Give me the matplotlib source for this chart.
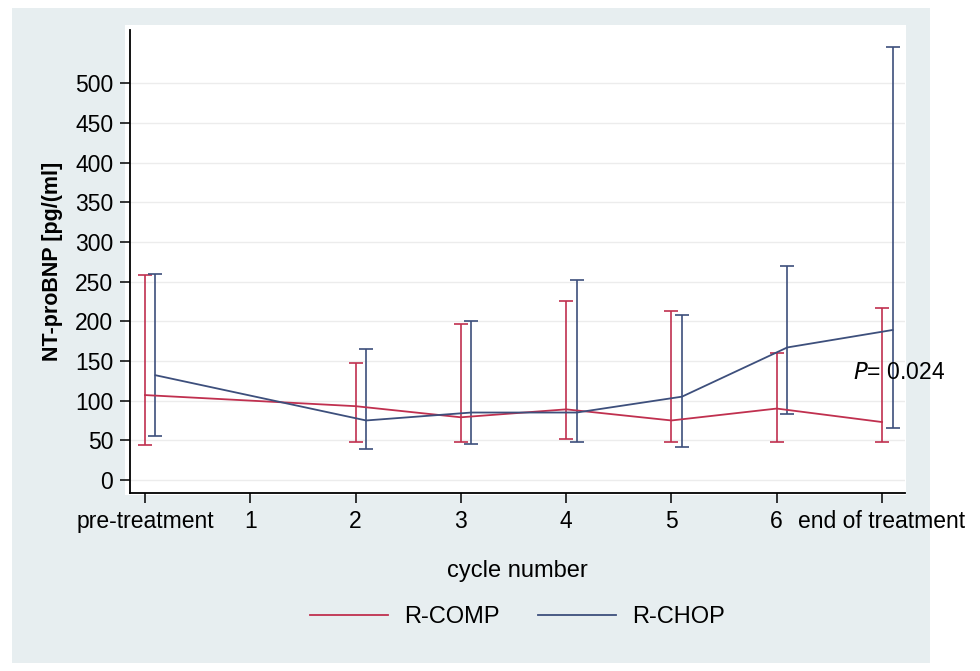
import matplotlib
matplotlib.use("Agg")
import matplotlib.pyplot as plt
from matplotlib.patches import Rectangle

plt.rcParams['font.family'] = ['Liberation Sans', 'DejaVu Sans']

categories = ["pre-treatment", "1", "2", "3", "4", "5", "6", "end of treatment"]

# R-COMP (positions = cycle index)
comp_x = [0, 2, 3, 4, 5, 6, 7]
comp_mid = [107, 93, 79, 89, 75, 90, 73]
comp_lo = [44, 48, 48, 52, 48, 48, 48]
comp_hi = [258, 148, 196, 226, 213, 160, 217]

# R-CHOP
chop_x = [0, 2, 3, 4, 5, 6, 7]
chop_mid = [132, 75, 85, 85, 105, 167, 189]
chop_lo = [55, 39, 45, 48, 41, 83, 65]
chop_hi = [260, 165, 200, 252, 208, 270, 545]

chop_offset = 0.1
red = "#c0304f"
blue = "#3d4f7c"

fig = plt.figure(figsize=(9.8, 6.71), dpi=100)
fig.patch.set_facecolor("white")
W, H = 980, 671

bg = fig.add_axes([0, 0, 1, 1], zorder=-10)
bg.set_xlim(0, W)
bg.set_ylim(H, 0)
bg.axis("off")
bg.add_patch(Rectangle((12, 8), 930 - 12, 663 - 8, facecolor="#e7eef0", edgecolor="none"))
bg.add_patch(Rectangle((125, 25), 906 - 125, 470, facecolor="white", edgecolor="none"))

ax = fig.add_axes([130 / W, 1 - 493 / H, (905 - 130) / W, (493 - 30) / H], zorder=1)
ax.set_facecolor("white")

def draw(xs, mid, lo, hi, color, label, off=0.0):
    xx = [x + off for x in xs]
    yerr = [[m - l for m, l in zip(mid, lo)], [h - m for m, h in zip(mid, hi)]]
    ax.errorbar(xx, mid, yerr=yerr, fmt="none", ecolor=color, elinewidth=1.2,
                capsize=5, capthick=1.2, zorder=3)
    ax.plot(xx, mid, color=color, lw=1.3, label=label, zorder=4)

draw(comp_x, comp_mid, comp_lo, comp_hi, red, "R-COMP")
draw(chop_x, chop_mid, chop_lo, chop_hi, blue, "R-CHOP", chop_offset)

ax.set_xlim(-0.142, 7.218)
ax.set_ylim(-16.4, 567)
ax.set_yticks(range(0, 501, 50))
ax.set_xticks(range(len(categories)))
ax.set_xticklabels(categories)
ax.yaxis.grid(True, color="#ececec", lw=1.0)
ax.set_axisbelow(True)
for s in ("top", "right"):
    ax.spines[s].set_visible(False)
for s in ("left", "bottom"):
    ax.spines[s].set_linewidth(1.3)
ax.tick_params(axis="both", direction="out", length=7, width=1.1, labelsize=16.5, pad=5)

ax.set_ylabel("NT-proBNP [pg/(ml]", fontsize=15.5, fontweight="bold", labelpad=9)
ax.set_xlabel("cycle number", fontsize=17, labelpad=20)

ax.text(6.72, 136, "$P$= 0.024", fontsize=16.5, va="center", ha="left", zorder=5)

leg = ax.legend(loc="center", bbox_to_anchor=(0.5, -0.268), ncol=2, frameon=False,
                fontsize=17, handlelength=3.3, columnspacing=1.6, handletextpad=0.7)

fig.savefig("out.png", dpi=100)
